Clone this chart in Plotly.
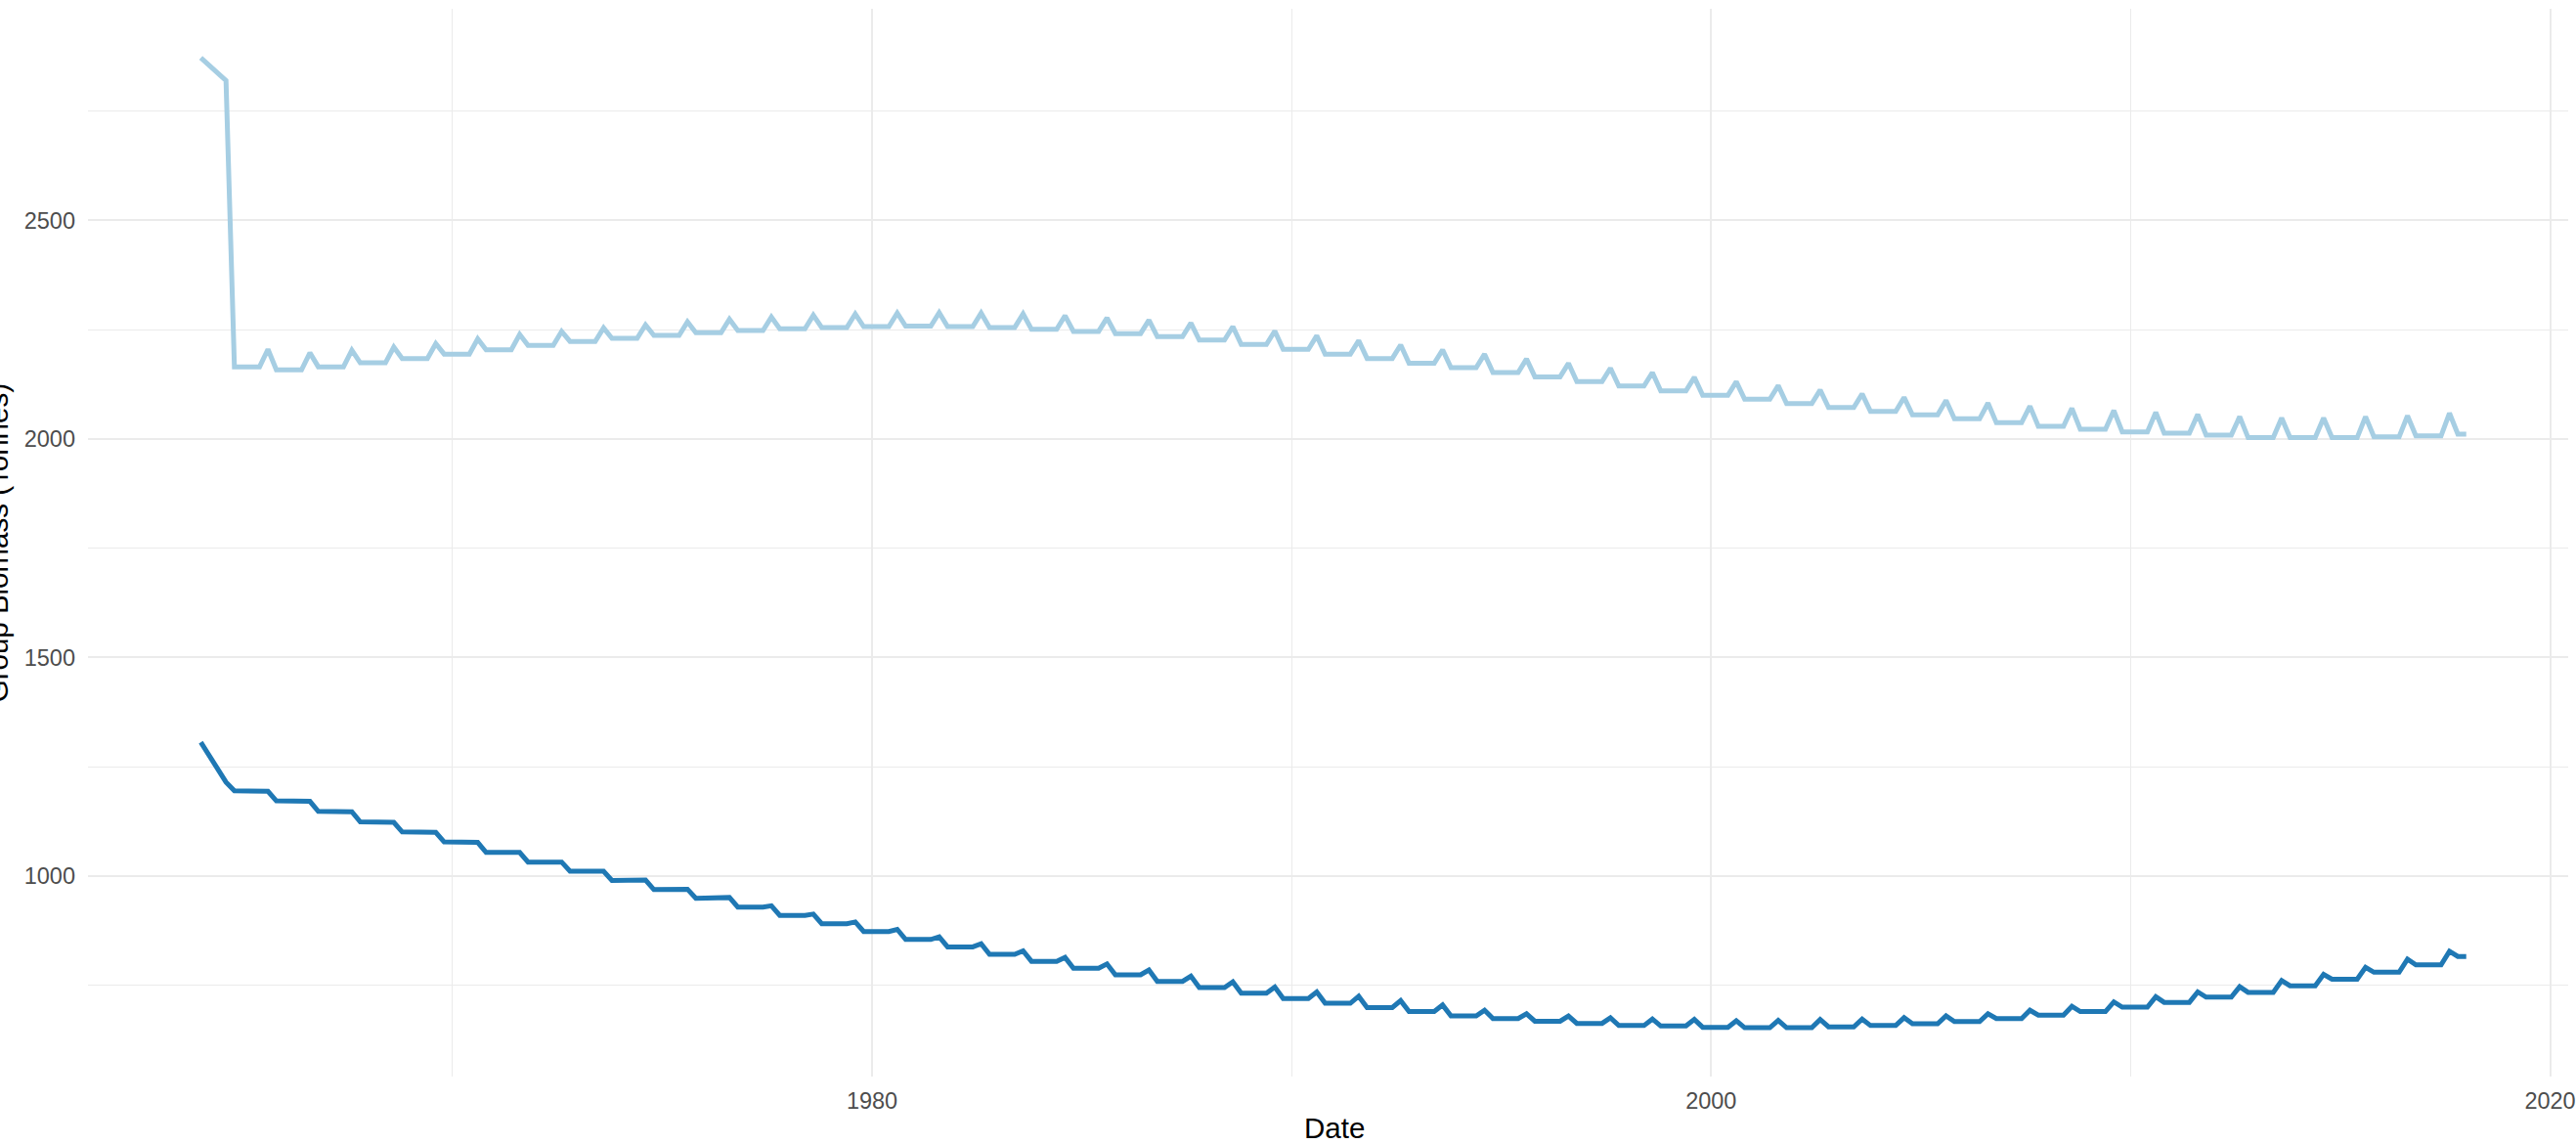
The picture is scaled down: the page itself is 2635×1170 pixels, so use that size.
import plotly.graph_objects as go

# ---- data ----
years = list(range(1965, 2018))
start_t = [1964.0, 1964.2, 1964.4, 1964.6]
end_t = [2017.8, 2018.0]

light_start = [2872, 2855, 2838, 2820]
dark_start = [1306, 1276, 1245, 1215]

light_flat = [2165, 2158, 2165, 2174, 2184, 2194, 2204, 2214, 2223, 2230,
              2237, 2243, 2248, 2252, 2255, 2257, 2258, 2257, 2255, 2251,
              2246, 2241, 2234, 2226, 2216, 2205, 2194, 2184, 2173, 2163,
              2152, 2142, 2131, 2121, 2110, 2100, 2091, 2081, 2072, 2063,
              2055, 2046, 2037, 2029, 2022, 2016, 2013, 2009, 2003, 2003,
              2003, 2005, 2007]
light_peak = [2205, 2197, 2203, 2210, 2218, 2229, 2239, 2246, 2254, 2261,
              2268, 2274, 2279, 2283, 2286, 2288, 2289, 2288, 2286, 2282,
              2277, 2272, 2265, 2257, 2247, 2236, 2225, 2215, 2204, 2194,
              2183, 2173, 2162, 2152, 2141, 2131, 2122, 2112, 2103, 2095,
              2088, 2082, 2075, 2070, 2065, 2061, 2056, 2051, 2048, 2048,
              2051, 2053, 2059]
light_end = [2011, 2011]

dark_flat = [1195, 1172, 1148, 1124, 1101, 1078, 1054, 1032, 1011, 990,
             969, 949, 929, 910, 891, 873, 855, 838, 821, 805,
             789, 774, 759, 745, 732, 720, 709, 699, 690, 680,
             674, 668, 663, 658, 657, 654, 653, 653, 655, 658,
             662, 667, 674, 682, 690, 700, 711, 723, 734, 749,
             764, 780, 797]
dark_peak = [1194, 1171, 1147, 1123, 1100, 1077, 1054, 1032, 1011, 991,
             970, 951, 932, 913, 895, 878, 861, 845, 829, 814,
             799, 785, 771, 758, 746, 735, 725, 715, 705, 693,
             685, 680, 676, 673, 672, 669, 670, 672, 673, 676,
             680, 685, 693, 702, 712, 724, 735, 747, 761, 775,
             791, 810, 828]
dark_end = [816, 816]

x_major = [1980, 2000, 2020]
x_minor = [1970, 1990, 2010]
y_major = [1000, 1500, 2000, 2500]
y_minor = [750, 1250, 1750, 2250, 2750]


def build(start_v, flat, peak, end_v):
    t = list(start_t)
    v = list(start_v)
    for i, y in enumerate(years):
        for off in (-0.2, 0.0, 0.2, 0.4):
            t.append(round(y + off, 1))
            v.append(flat[i])
        t.append(round(y + 0.6, 1))
        v.append(peak[i])
    t += end_t
    v += end_v
    return t, v


tl, vl = build(light_start, light_flat, light_peak, light_end)
td, vd = build(dark_start, dark_flat, dark_peak, dark_end)

fig = go.Figure()
fig.add_trace(go.Scatter(x=tl, y=vl, mode="lines",
                         line=dict(color="#A6CEE3", width=5), showlegend=False))
fig.add_trace(go.Scatter(x=td, y=vd, mode="lines",
                         line=dict(color="#1F78B4", width=5), showlegend=False))

font_fam = "Liberation Sans, Arial, sans-serif"
grid = "#EBEBEB"

fig.update_layout(
    width=2635, height=1170, autosize=False,
    margin=dict(l=90, r=0, t=9, b=69),
    paper_bgcolor="white", plot_bgcolor="white",
    font=dict(family=font_fam),
    xaxis=dict(range=[1961.31, 2020.43], tickvals=x_major,
               ticktext=[str(v) for v in x_major],
               showgrid=True, gridcolor=grid, gridwidth=2,
               zeroline=False, showline=False, ticks="",
               ticklabelstandoff=8, ticklabeloverflow="allow",
               tickfont=dict(size=23.5, color="#4D4D4D", family=font_fam),
               minor=dict(tickvals=x_minor, showgrid=True, gridcolor=grid, gridwidth=1)),
    yaxis=dict(range=[541.4, 2984], tickvals=y_major,
               ticktext=[str(v) for v in y_major],
               showgrid=True, gridcolor=grid, gridwidth=2,
               zeroline=False, showline=False, ticks="",
               ticklabelstandoff=12,
               tickfont=dict(size=23.5, color="#4D4D4D", family=font_fam),
               minor=dict(tickvals=y_minor, showgrid=True, gridcolor=grid, gridwidth=1)),
    annotations=[
        dict(text="Date", xref="paper", yref="paper", x=0.5026, y=-0.0485,
             xanchor="center", yanchor="middle", showarrow=False,
             font=dict(size=29.5, color="black", family=font_fam)),
        dict(text="Group Biomass (Tonnes)", xref="paper", yref="paper",
             x=(-3 - 90) / 2545, y=0.5, textangle=-90,
             xanchor="center", yanchor="middle", showarrow=False,
             font=dict(size=29.5, color="black", family=font_fam)),
    ],
)

fig.write_html("out.html",
               config={"displayModeBar": False},
               post_script="document.body.style.margin='0';document.body.style.overflow='hidden';")
